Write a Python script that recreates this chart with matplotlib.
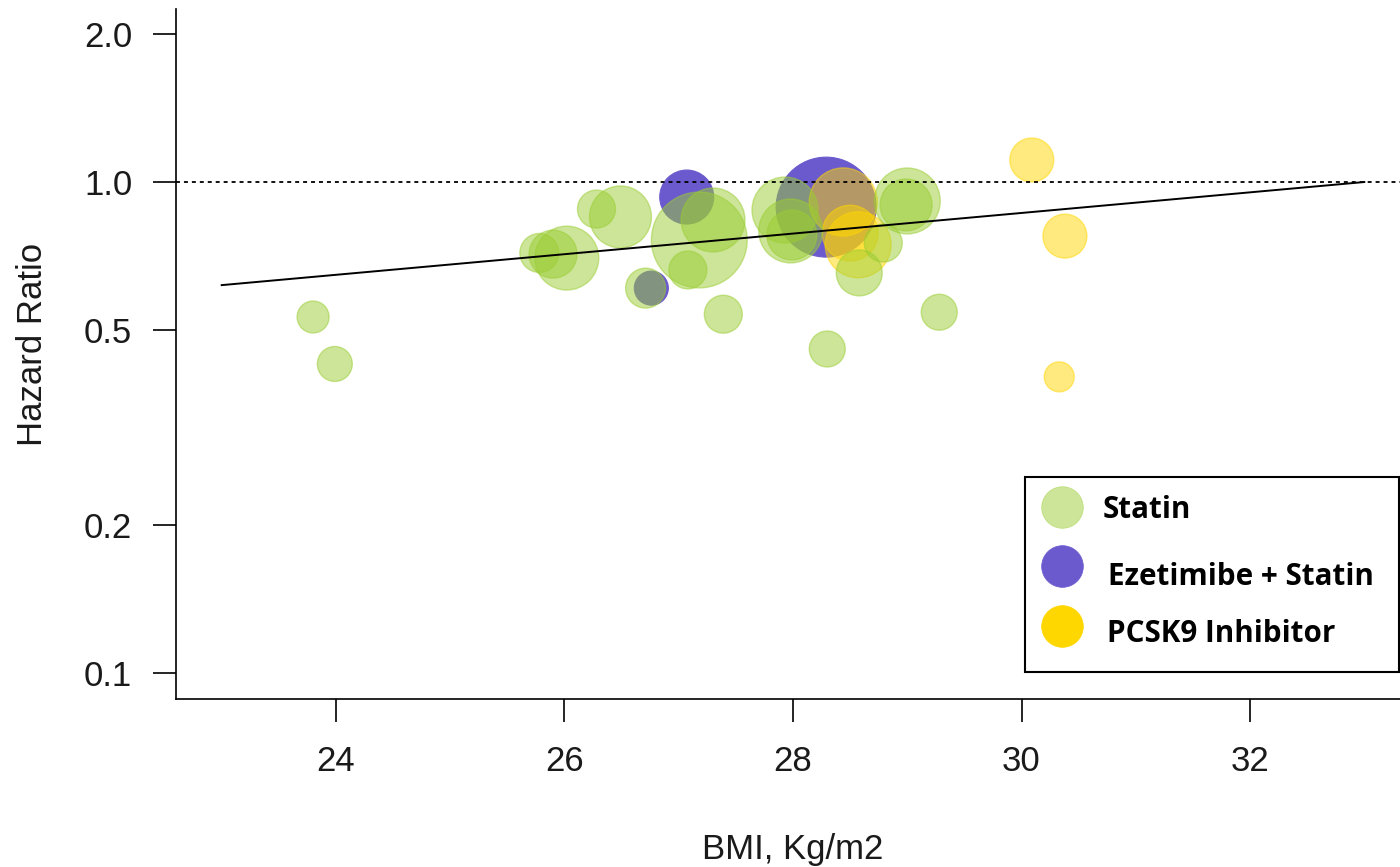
import matplotlib
matplotlib.use("Agg")
import matplotlib.pyplot as plt
from matplotlib.lines import Line2D
from matplotlib.patches import Rectangle
from matplotlib.ticker import FixedLocator, FixedFormatter, NullLocator
import numpy as np

plt.rcParams['font.family'] = ['Liberation Sans', 'DejaVu Sans']

# ---------------- data ----------------
statin_bmi = [23.80, 23.99, 25.78, 25.90, 26.02, 26.28, 26.49, 27.18, 27.30, 27.08,
              26.71, 27.39, 27.93, 27.98, 27.99, 28.58, 28.79, 29.00, 28.99, 29.28, 28.30]
statin_hr = [0.531, 0.426, 0.717, 0.713, 0.700, 0.881, 0.849, 0.762, 0.837, 0.662,
             0.608, 0.538, 0.877, 0.795, 0.780, 0.653, 0.751, 0.915, 0.898, 0.543, 0.457]
statin_w = [2.56, 3.06, 3.80, 5.76, 10.24, 3.61, 9.61, 23.0, 10.24, 3.61,
            4.0, 3.61, 10.9, 10.24, 6.25, 5.29, 3.61, 10.9, 6.76, 3.24, 3.24]

eze_bmi = [27.07, 26.76, 28.29]
eze_hr = [0.932, 0.608, 0.889]
eze_w = [7.3, 2.9, 25.0]

pcsk9_bmi = [30.09, 30.38, 30.33, 28.44, 28.50, 28.57]
pcsk9_hr = [1.109, 0.776, 0.401, 0.911, 0.787, 0.745]
pcsk9_w = [4.84, 4.84, 2.25, 11.6, 7.8, 10.9]

# meta-regression line: log10(HR) = b0 + b1 * BMI
reg_b0 = -0.693
reg_b1 = 0.021
reg_bmi_range = [23.0, 33.0]

x_ticks = [24, 26, 28, 30, 32]
y_ticks = [0.1, 0.2, 0.5, 1.0, 2.0]
y_tick_labels = ["0.1", "0.2", "0.5", "1.0", "2.0"]

series_labels = ["Statin", "Ezetimibe + Statin", "PCSK9 Inhibitor"]

# ---------------- style ----------------
GREEN = (154/255, 205/255, 50/255)
BLUE = (106/255, 90/255, 205/255)
GOLD = (1.0, 215/255, 0.0)
TXT = "#1a1a1a"
SIZE_SCALE = 207.0

fig = plt.figure(figsize=(14, 8.67), dpi=100)
ax = fig.add_axes([176/1400, 1 - 698.5/867, (1410 - 176)/1400, (698.5 - 8.7)/867])

def rgba(c, a):
    return (c[0], c[1], c[2], a)

# bubbles: blue (opaque) first, then yellow, then green
ax.scatter(eze_bmi, eze_hr, s=np.array(eze_w) * SIZE_SCALE,
           facecolor=rgba(BLUE, 1.0), edgecolor=rgba(BLUE, 1.0), linewidth=0.8, zorder=2)
ax.scatter(pcsk9_bmi, pcsk9_hr, s=np.array(pcsk9_w) * SIZE_SCALE,
           facecolor=rgba(GOLD, 0.5), edgecolor=rgba(GOLD, 0.5), linewidth=1.0, zorder=3)
ax.scatter(statin_bmi, statin_hr, s=np.array(statin_w) * SIZE_SCALE,
           facecolor=rgba(GREEN, 0.5), edgecolor=rgba(GREEN, 0.5), linewidth=1.0, zorder=4)

# reference line at HR = 1
ax.axhline(1.0, color="black", linewidth=1.3, linestyle=(0, (2.2, 2.2)), zorder=5)

# regression line
xr = np.array(reg_bmi_range)
ax.plot(xr, 10 ** (reg_b0 + reg_b1 * xr), color="black", linewidth=1.4, zorder=6)

ax.set_yscale("log")
lx = 0.04 * (reg_bmi_range[1] - reg_bmi_range[0])
ax.set_xlim(reg_bmi_range[0] - lx, reg_bmi_range[1] + lx)
ly = 0.04 * (np.log10(2.0) - np.log10(0.1))
ax.set_ylim(10 ** (-1 - ly), 10 ** (np.log10(2.0) + ly))

ax.yaxis.set_major_locator(FixedLocator(y_ticks))
ax.yaxis.set_major_formatter(FixedFormatter(y_tick_labels))
ax.yaxis.set_minor_locator(NullLocator())
ax.set_xticks(x_ticks)
ax.set_xticklabels([str(v) for v in x_ticks])

for s in ["top", "right"]:
    ax.spines[s].set_visible(False)
for s in ["left", "bottom"]:
    ax.spines[s].set_linewidth(1.2)
    ax.spines[s].set_color("black")

ax.tick_params(axis="y", length=16.5, width=1.2, pad=15, labelsize=25, colors=TXT)
ax.tick_params(axis="y", color="black")
ax.tick_params(axis="x", length=16.5, width=1.2, pad=17, labelsize=25, colors=TXT)
ax.tick_params(axis="x", color="black")

ax.set_xlabel("BMI, Kg/m2", fontsize=25, color=TXT)
ax.set_ylabel("Hazard Ratio", fontsize=25, color=TXT)
ax.xaxis.set_label_coords(0.5, (698.5 - 850) / (698.5 - 8.7))
ax.xaxis.label.set_va("center")
ax.yaxis.set_label_coords((33 - 176) / (1410 - 176), (698.5 - 344) / (698.5 - 8.7))
ax.yaxis.label.set_va("center")

# legend (drawn manually in figure coordinates)
fig.add_artist(Rectangle((1025/1400, 1 - 672/867), (1399 - 1025)/1400, (672 - 477)/867,
                         transform=fig.transFigure, facecolor="white",
                         edgecolor="black", linewidth=1.5, zorder=10))
leg_colors = [rgba(GREEN, 0.5), rgba(BLUE, 1.0), rgba(GOLD, 1.0)]
leg_marker_y = [507, 566, 626]
leg_text_x = [1103, 1108, 1107]
leg_text_base = [518, 585, 642]
for lab, col, my, tx, tb in zip(series_labels, leg_colors, leg_marker_y, leg_text_x, leg_text_base):
    fig.add_artist(Line2D([1062/1400], [1 - my/867], transform=fig.transFigure,
                          marker="o", markersize=30, markerfacecolor=col,
                          markeredgecolor=col, markeredgewidth=0.5, linestyle="none", zorder=11))
    fig.text(tx/1400, 1 - tb/867, lab, fontsize=21.3, fontweight="bold",
             family=["Open Sans", "DejaVu Sans"], color="black", va="baseline", ha="left", zorder=12)

fig.savefig("out.png", dpi=100, facecolor="white")
